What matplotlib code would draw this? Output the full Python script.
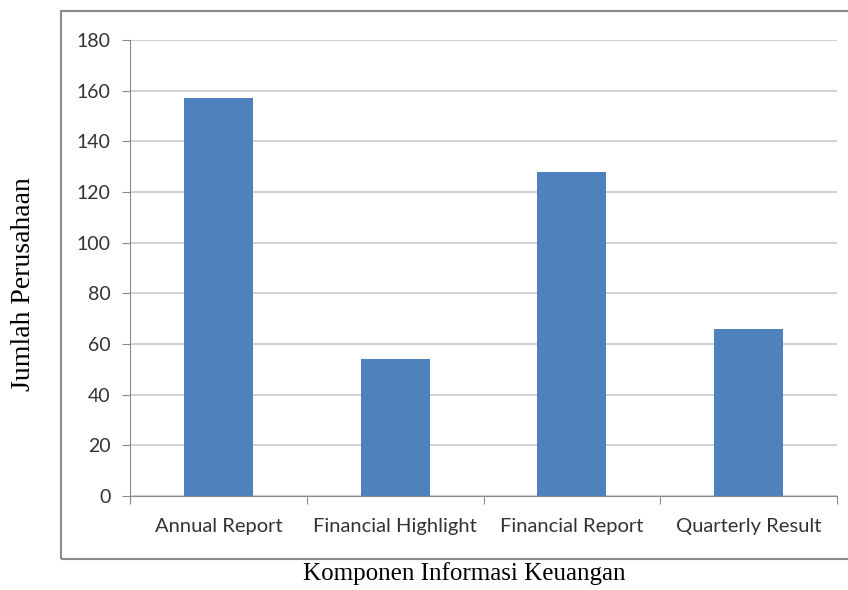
import matplotlib
matplotlib.use('Agg')
import matplotlib.pyplot as plt
from matplotlib.patches import Rectangle

# data
categories = ['Annual Report', 'Financial Highlight', 'Financial Report', 'Quarterly Result']
values = [157, 54, 128, 66]
yticks = [0, 20, 40, 60, 80, 100, 120, 140, 160, 180]

fig = plt.figure(figsize=(8.48, 5.90), dpi=100)
ax = fig.add_axes([130 / 848, 94 / 590, 707 / 848, 456 / 590])

# outer chart frame
fig.patches.append(Rectangle((61 / 848, 31 / 590), 0.99, 548 / 590, transform=fig.transFigure,
                             fill=False, edgecolor='#8a8a8a', linewidth=1.5))

x = range(len(categories))
ax.bar(x, values, width=0.39, color='#4F81BD', zorder=3)

ax.set_xlim(-0.5, len(categories) - 0.5)
ax.set_ylim(0, 180)
ax.set_yticks(yticks)
ax.set_yticklabels([str(v) for v in yticks], fontsize=14, color='#333333', family='Lato')
ax.yaxis.grid(True, color='#c8c8c8', linewidth=1.2, zorder=0)
ax.set_axisbelow(True)

# category tick marks between bars, labels centered under bars
ax.set_xticks([i - 0.5 for i in range(len(categories) + 1)])
ax.set_xticklabels([''] * (len(categories) + 1))
ax.set_xticks(list(x), minor=True)
ax.set_xticklabels(categories, minor=True, fontsize=14.5, color='#333333', family='Lato')
ax.tick_params(axis='x', which='minor', length=0, pad=16)
ax.tick_params(axis='x', which='major', length=6, color='#8a8a8a')
ax.tick_params(axis='y', length=6, color='#8a8a8a', pad=8)

for side in ['top', 'right']:
    ax.spines[side].set_visible(False)
ax.spines['left'].set_color('#8a8a8a')
ax.spines['bottom'].set_color('#8a8a8a')

fig.text(464 / 848, 1 - 574 / 590, 'Komponen Informasi Keuangan', ha='center', va='center',
         family='Liberation Serif', fontsize=18, color='black')
fig.text(24 / 848, 1 - 284 / 590, 'Jumlah Perusahaan', ha='center', va='center', rotation=90,
         family='Liberation Serif', fontsize=20, color='black')

plt.savefig('out.png', dpi=100)
